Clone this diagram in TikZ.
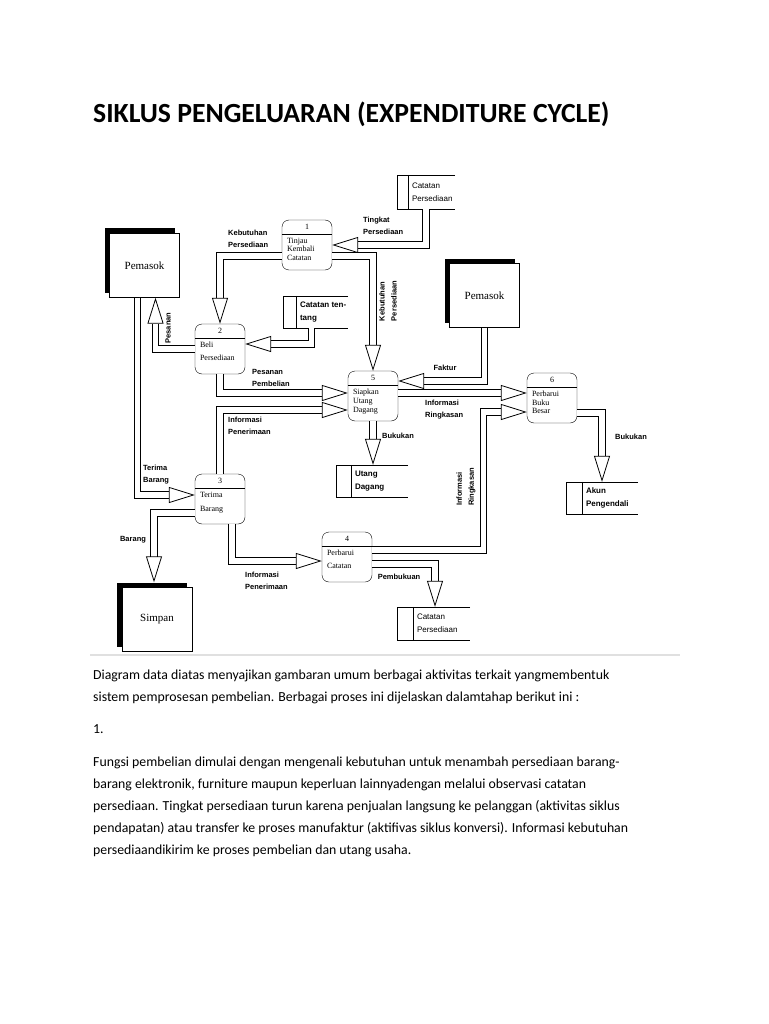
\documentclass[tikz,border=0pt]{standalone}
\usepackage{fontspec}
\setmainfont{Carlito}
\newfontfamily\arialfont{Liberation Sans}
\newfontfamily\timesfont{Liberation Serif}
\usetikzlibrary{arrows.meta,shadows}

\begin{document}
\begin{tikzpicture}[x=1pt,y=-1pt,
  aliran/.style={draw,double,double distance=5.5pt,line width=0.8pt,
    -{Triangle[open,length=26pt,width=16pt,line width=0.8pt]}},
  proses/.style={draw,rounded corners=7pt,minimum width=50pt,minimum height=50pt,inner sep=0pt},
  nomor/.style={font=\timesfont\fontsize{8}{9}\selectfont,inner sep=0pt},
  isi/.style={anchor=north west,align=left,inner sep=0pt},
  entitas/.style={draw,fill=white,minimum width=70pt,minimum height=64pt,
    general shadow={fill=black,shadow xshift=-5pt,shadow yshift=5pt},
    font=\timesfont\fontsize{11}{13}\selectfont},
  simpanan/.style={inner sep=0pt},
  ket/.style={font=\arialfont\bfseries\fontsize{7.5}{12}\selectfont,align=left,inner sep=0pt}]

  \fill[white] (0,0) rectangle (768,1024);
  \useasboundingbox (0,0) rectangle (768,1024);

  \node[anchor=base west,font=\bfseries\fontsize{27.7}{32}\selectfont,inner sep=0pt] (judul) at (93,123)
    {SIKLUS PENGELUARAN (EXPENDITURE CYCLE)};

  \foreach \p/\x/\y/\no/\jarak/\teks in {
    p1/307/245/1/8.5/{Tinjau\\Kembali\\Catatan},
    p2/220/349/2/13/{Beli\\Persediaan},
    p3/220/499/3/14/{Terima\\Barang},
    p4/347/557/4/13/{Perbarui\\Catatan},
    p5/373/396/5/9/{Siapkan\\Utang\\Dagang},
    p6/552/398/6/8.5/{Perbarui\\Buku\\Besar}}
  {
    \node[proses] (\p) at (\x,\y) {};
    \draw ([yshift=-14pt]\p.north west) -- ([yshift=-14pt]\p.north east);
    \node[nomor] (\p-no) at ([yshift=-7pt]\p.north) {\no};
    \node[isi,font=\timesfont\fontsize{8}{\jarak}\selectfont] (\p-teks)
      at ([xshift=5pt,yshift=-18pt]\p.north west) {\teks};
  }

  \foreach \s/\x/\y/\w/\h/\d/\tebal/\teks in {
    cpA/426/192/58/34/11/\mdseries/{Catatan\\Persediaan},
    ct/315.5/312/65/32/13/\bfseries/{Catatan ten-\\tang},
    ud/372/481/72/32/15/\bfseries/{Utang\\Dagang},
    ak/602/498/72/32/16/\bfseries/{Akun\\Pengendali},
    cpB/433.5/623.5/73/33/16/\mdseries/{Catatan\\Persediaan}}
  {
    \node[simpanan,minimum width=\w pt,minimum height=\h pt] (\s) at (\x,\y) {};
    \draw (\s.north east) -- (\s.north west) -- (\s.south west) -- (\s.south east);
    \draw ([xshift=\d pt]\s.north west) -- ([xshift=\d pt]\s.south west);
    \node[anchor=west,align=left,inner sep=0pt,font=\arialfont\tebal\fontsize{8}{13}\selectfont] (\s-teks)
      at ([xshift=\d pt+4pt]\s.west) {\teks};
  }

  \node[entitas] (pA) at (144.5,265.5) {Pemasok};
  \node[entitas] (pB) at (484.5,295.5) {Pemasok};
  \node[entitas] (sp) at (157,619.5) {Simpan};

  \coordinate (k10) at (483.5,412);

  \draw[aliran] (cpA.south) |- (p1.east);
  \draw[aliran] ([yshift=-11pt]p1.west) -| (p2.north);
  \draw[aliran] ([yshift=-11pt]p1.east) -| (p5.north);
  \draw[aliran] (p2.west) -| ([xshift=11pt]pA.south);
  \draw[aliran] ([xshift=-4pt]ct.south) |- ([yshift=5pt]p2.east);
  \draw[aliran] (p2.south) |- ([yshift=3pt]p5.west);
  \draw[aliran] (p3.north) |- ([yshift=-14pt]p5.west);
  \draw[aliran] (pB.south) |- ([yshift=15pt]p5.east);
  \draw[aliran] ([yshift=3pt]p5.east) -- ([yshift=3pt]p5.east -| p6.west);
  \draw[aliran] ([yshift=7pt]p4.east) -| (k10) -- (k10 -| p6.west);
  \draw[aliran] (p5.south) -- (p5.south |- ud.north);
  \draw[aliran] ([yshift=-15pt]p6.east) -| (ak.north);
  \draw[aliran] ([xshift=-7pt]pA.south) |- ([yshift=4pt]p3.west);
  \draw[aliran] ([yshift=-14pt]p3.west) -| ([xshift=-3pt,yshift=5pt]sp.north);
  \draw[aliran] ([xshift=12pt]p3.south) |- ([yshift=-4pt]p4.west);
  \draw[aliran] ([yshift=-7pt]p4.east) -| ([xshift=1.5pt]cpB.north);

  \node[ket,anchor=north west] (l-tingkat) at (363,217) {Tingkat\\Persediaan};
  \node[ket,anchor=north west] (l-kebA) at (228,230) {Kebutuhan\\Persediaan};
  \node[ket,rotate=90] (l-kebB) at (388,301) {Kebutuhan\\Persediaan};
  \node[ket,rotate=90] (l-pesanan) at (168,328) {Pesanan};
  \node[ket,anchor=north west] (l-pesbel) at (252,369) {Pesanan\\Pembelian};
  \node[ket,anchor=north west] (l-infoA) at (228,417) {Informasi\\Penerimaan};
  \node[ket] (l-faktur) at (445,368) {Faktur};
  \node[ket,anchor=north west] (l-ringA) at (425,400) {Informasi\\Ringkasan};
  \node[ket,rotate=90] (l-ringB) at (466,487) {Informasi\\Ringkasan};
  \node[ket] (l-bukA) at (398,436) {Bukukan};
  \node[ket] (l-bukB) at (631,437) {Bukukan};
  \node[ket,anchor=north west] (l-terima) at (143,465) {Terima\\Barang};
  \node[ket] (l-barang) at (133,540) {Barang};
  \node[ket,anchor=north west] (l-infoB) at (245,572) {Informasi\\Penerimaan};
  \node[ket] (l-pembukuan) at (399,577) {Pembukuan};

  \draw[black!12,line width=2pt] (90,655) -- (680,655);

  \node[anchor=north west,align=left,inner sep=0pt,font=\fontsize{13.8}{22}\selectfont] (par1) at (93,670)
    {Diagram data diatas menyajikan gambaran umum berbagai aktivitas terkait yangmembentuk\\
     sistem pemprosesan pembelian. Berbagai proses ini dijelaskan dalamtahap berikut ini :};
  \node[anchor=north west,inner sep=0pt,font=\fontsize{13.8}{22}\selectfont] (par2) at (93,724) {1.};
  \node[anchor=north west,align=left,inner sep=0pt,font=\fontsize{13.8}{22}\selectfont] (par3) at (93,757)
    {Fungsi pembelian dimulai dengan mengenali kebutuhan untuk menambah persediaan barang-\\
     barang elektronik, furniture maupun keperluan lainnyadengan melalui observasi catatan\\
     persediaan. Tingkat persediaan turun karena penjualan langsung ke pelanggan (aktivitas siklus\\
     pendapatan) atau transfer ke proses manufaktur (aktifivas siklus konversi). Informasi kebutuhan\\
     persediaandikirim ke proses pembelian dan utang usaha.};
\end{tikzpicture}
\end{document}
